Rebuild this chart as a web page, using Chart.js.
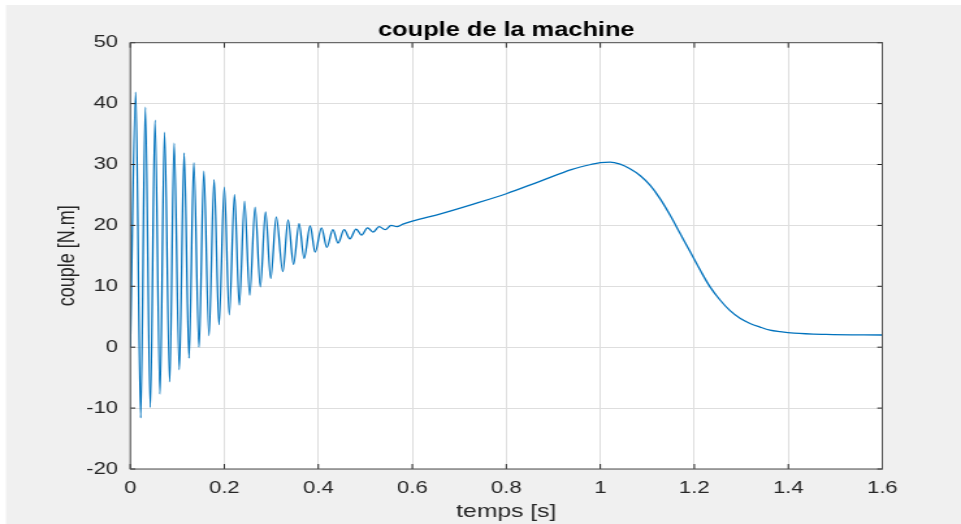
<!DOCTYPE html>
<html>
<head>
<meta charset="utf-8">
<title>couple de la machine</title>
<script src="https://cdn.jsdelivr.net/npm/chart.js@4.4.1/dist/chart.umd.min.js"></script>
<style>
  html, body { margin: 0; padding: 0; background: #ffffff; overflow: hidden; }
  #c { display: block; width: 961px !important; height: 524px !important; }
</style>
</head>
<body>
<!-- drawn on a narrower canvas and widened by CSS, giving the wide glyphs of the figure -->
<canvas id="c" width="739" height="524" style="width:961px;height:524px"></canvas>
<script>
// time samples [s]
const timeS = [
  0, 0.0115, 0.0221, 0.0319, 0.0426, 0.0525, 0.0632, 0.0728, 0.0838, 0.0932,
  0.1043, 0.1145, 0.1249, 0.1351, 0.1462, 0.1564, 0.1674, 0.1783, 0.1887, 0.2000,
  0.2106, 0.2217, 0.2319, 0.2430, 0.2540, 0.2655, 0.2766, 0.2877, 0.2987, 0.3105,
  0.3245, 0.3357, 0.3472, 0.3591, 0.3698, 0.3826, 0.3932, 0.4068, 0.4181, 0.4309,
  0.4421, 0.4549, 0.4670, 0.4804, 0.4919, 0.5047, 0.5166, 0.5294, 0.5421, 0.5550,
  0.5670, 0.5800, 0.6000, 0.6600, 0.7300, 0.8000, 0.8700, 0.9400, 0.9800, 1.0000,
  1.0206, 1.0419, 1.0630, 1.0845, 1.1057, 1.1270, 1.1483, 1.1696, 1.1909, 1.2121,
  1.2334, 1.2547, 1.2760, 1.2972, 1.3185, 1.3398, 1.3610, 1.3823, 1.4120, 1.4800,
  1.6000
];
// electromagnetic torque [N.m]
const torqueNm = [
  0, 41.9, -11.6, 39.4, -9.9, 37.3, -7.7, 35.3, -5.7, 33.5,
  -3.7, 31.9, -1.8, 30.3, 0.0, 28.9, 1.9, 27.5, 3.7, 26.3,
  5.3, 25.1, 6.9, 24.0, 8.5, 23.0, 9.9, 22.2, 11.3, 21.4,
  12.4, 20.9, 13.6, 20.3, 14.6, 19.9, 15.6, 19.6, 16.4, 19.3,
  17.1, 19.3, 17.8, 19.4, 18.4, 19.6, 18.9, 19.8, 19.3, 20.0,
  19.8, 20.2, 20.7, 21.9, 23.5, 25.2, 27.2, 29.2, 30.0, 30.3,
  30.4, 30.05, 29.3, 28.2, 26.6, 24.4, 21.7, 18.7, 15.7, 12.7,
  9.9, 7.75, 6.0, 4.75, 3.9, 3.3, 2.8, 2.55, 2.3, 2.1,
  2.0
];
// axis ranges and tick steps
const xRange = [0, 1.6];
const xStep = 0.2;
const yRange = [-20, 50];
const yStep = 10;

const SX = 961 / 739;          // horizontal widening of the canvas
const FONT = '"Liberation Sans", Arial, Helvetica, sans-serif';
const INK = '#262626';

const points = timeS.map((t, i) => ({ x: t, y: torqueNm[i] }));

// figure background, white axes box, box outline and inward tick marks
const frame = {
  id: 'frame',
  beforeDraw(chart) {
    const { ctx, width, height, chartArea: a } = chart;
    ctx.save();
    ctx.fillStyle = '#ffffff';
    ctx.fillRect(0, 0, width, height);
    ctx.fillStyle = '#f0f0f0';
    ctx.fillRect(6 / SX, 5, width, height);
    ctx.fillStyle = '#ffffff';
    ctx.fillRect(a.left, a.top, a.right - a.left, a.bottom - a.top);
    ctx.restore();
  },
  afterDraw(chart) {
    const { ctx, chartArea: a, scales } = chart;
    ctx.save();
    ctx.strokeStyle = INK;
    ctx.lineWidth = 1;
    ctx.beginPath();
    scales.x.ticks.forEach(tk => {
      const px = scales.x.getPixelForValue(tk.value);
      ctx.moveTo(px, a.bottom); ctx.lineTo(px, a.bottom - 5);
      ctx.moveTo(px, a.top); ctx.lineTo(px, a.top + 5);
    });
    scales.y.ticks.forEach(tk => {
      const py = scales.y.getPixelForValue(tk.value);
      ctx.moveTo(a.left, py); ctx.lineTo(a.left + 5 / SX, py);
      ctx.moveTo(a.right, py); ctx.lineTo(a.right - 5 / SX, py);
    });
    ctx.stroke();
    ctx.strokeStyle = '#4d4d4d';
    ctx.strokeRect(a.left, a.top, a.right - a.left, a.bottom - a.top);
    ctx.restore();
  }
};

new Chart(document.getElementById('c'), {
  type: 'line',
  data: {
    datasets: [{
      label: 'couple',
      data: points,
      borderColor: '#0072BD',
      borderWidth: 1.3,
      pointRadius: 0,
      fill: false,
      cubicInterpolationMode: 'monotone'
    }]
  },
  options: {
    responsive: false,
    animation: false,
    devicePixelRatio: 1,
    layout: { padding: { left: 0, right: 60.5, top: 0, bottom: 0 } },
    plugins: {
      legend: { display: false },
      tooltip: { enabled: false },
      title: {
        display: true,
        fullSize: false,
        text: 'couple de la machine',
        color: '#000000',
        font: { family: FONT, size: 19.5, weight: 'bold', lineHeight: 1.2 },
        padding: { top: 18.5, bottom: 0.8 }
      }
    },
    scales: {
      x: {
        type: 'linear',
        min: xRange[0],
        max: xRange[1],
        afterFit(scale) { scale.height = 55; },
        afterBuildTicks(scale) {
          const out = [];
          for (let v = xRange[0]; v <= xRange[1] + 1e-9; v += xStep) out.push({ value: +v.toFixed(1) });
          scale.ticks = out;
        },
        grid: { color: '#dedede', lineWidth: 1, drawTicks: false },
        border: { display: false },
        ticks: {
          color: INK,
          padding: 8.8,
          maxRotation: 0,
          autoSkip: false,
          font: { family: FONT, size: 17, lineHeight: 1.2 },
          callback: v => String(+(+v).toFixed(1))
        },
        title: {
          display: true,
          text: 'temps [s]',
          color: INK,
          font: { family: FONT, size: 19, lineHeight: 1.2 },
          padding: { top: 0, bottom: 0.6 }
        }
      },
      y: {
        type: 'linear',
        min: yRange[0],
        max: yRange[1],
        afterFit(scale) { scale.width = 100.2; },
        grid: { color: '#dedede', lineWidth: 1, drawTicks: false },
        border: { display: false },
        ticks: {
          stepSize: yStep,
          color: INK,
          padding: 9.4,
          font: { family: FONT, size: 17, lineHeight: 1.2 }
        },
        title: {
          display: true,
          text: 'couple [N.m]',
          color: INK,
          font: { family: FONT, size: 18, lineHeight: 1.2 },
          padding: { top: 41.6, bottom: 0 }
        }
      }
    }
  },
  plugins: [frame]
});
</script>
</body>
</html>
